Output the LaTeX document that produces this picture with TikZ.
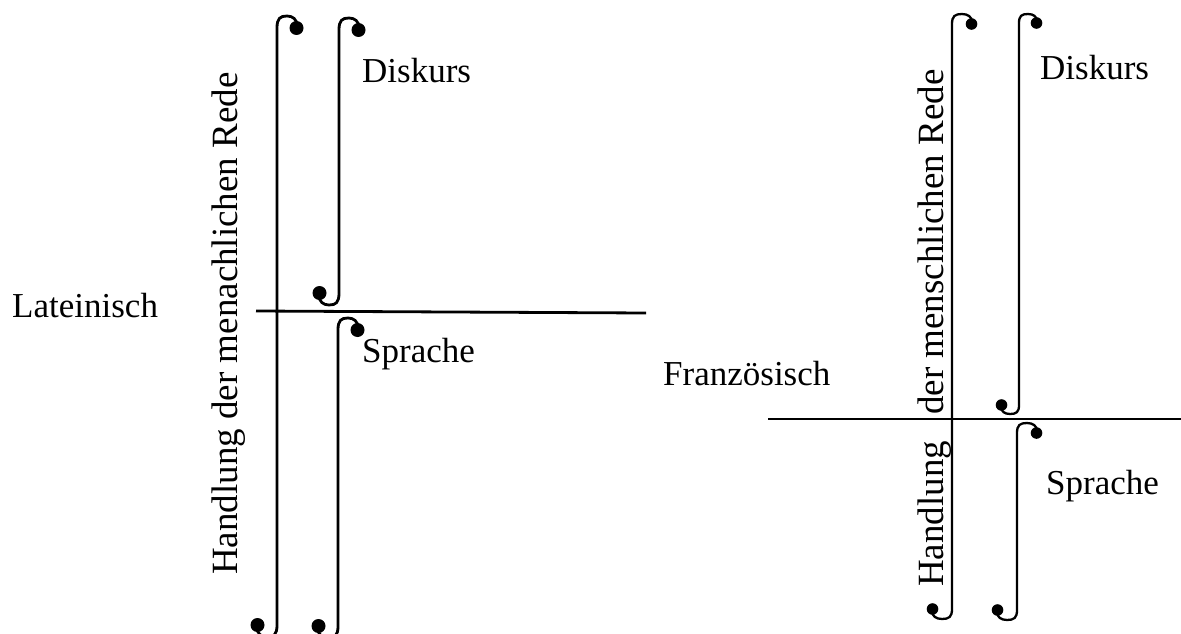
\documentclass[tikz,border=0pt]{standalone}
\usepackage{fontspec}
\setmainfont{Liberation Serif}
\newcommand\intsym[6]{% x, ytop, ybot, w, h, r
  \draw (#1+#4,#2+0.8*#5) .. controls (#1+#4,#2+0.3*#5) and (#1+0.8*#4,#2) .. (#1+0.5*#4,#2)
     .. controls (#1+0.15*#4,#2) and (#1,#2+0.2*#5) .. (#1,#2+#5)
     -- (#1,#3-#5) .. controls (#1,#3-0.2*#5) and (#1-0.15*#4,#3) .. (#1-0.5*#4,#3)
     .. controls (#1-0.8*#4,#3) and (#1-#4,#3-0.3*#5) .. (#1-#4,#3-0.8*#5);
  \fill (#1+#4-0.5,#2+#5) circle[radius=#6pt];
  \fill (#1-#4+0.5,#3-#5) circle[radius=#6pt];
}
\tikzset{
  lbl/.style={inner sep=0pt, anchor=base west, font=\fontsize{35}{42}\selectfont},
  rot/.style={inner sep=0pt, anchor=base west, rotate=90, font=\fontsize{37}{44}\selectfont},
  thick1/.style={line width=2.8pt},
  thin1/.style={line width=2.3pt}
}
\begin{document}
\begin{tikzpicture}[x=1pt,y=-1pt]
\useasboundingbox (0,0) rectangle (1181,634);
% left structure
\begin{scope}[thick1]
\intsym{277}{16}{637}{20}{12}{7}
\intsym{339}{18}{305}{20}{12}{7}
\intsym{338}{318}{638}{20}{12}{7}
\end{scope}
\coordinate (l1) at (256,311);
\coordinate (l2) at (646,313);
\draw[thick1] (l1) -- (l2);
\node[lbl] (lat) at (12,317) {Lateinisch};
\node[lbl] (dis1) at (362,82) {Diskurs};
\node[lbl] (spr1) at (362,362) {Sprache};
\node[rot] (hand1) at (237,575) {Handlung der menachlichen Rede};
% right structure
\begin{scope}[thin1]
\intsym{952}{14}{619}{20}{10}{5.8}
\intsym{1019}{14}{414}{18}{9}{5.8}
\intsym{1017}{423}{620}{20}{10}{5.8}
\end{scope}
\coordinate (r1) at (768,419);
\coordinate (r2) at (1181,419);
\draw[thin1] (r1) -- (r2);
\node[lbl] (fra) at (663,385) {Französisch};
\node[lbl] (dis2) at (1040,80) {Diskurs};
\node[lbl] (spr2) at (1046,494) {Sprache};
\node[rot] (hand2) at (943,587) {Handlung};
\node[rot] (dmr) at (943,415) {der menschlichen Rede};
\end{tikzpicture}
\end{document}
